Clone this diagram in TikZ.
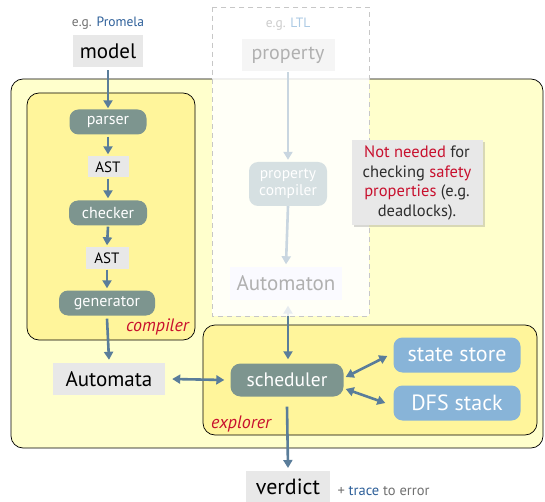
\documentclass[tikz,border=0pt]{standalone}
\usepackage{fontspec}
\setmainfont{PT Sans}
\usetikzlibrary{arrows.meta,shadows}
\definecolor{outery}{HTML}{FFFFCC}
\definecolor{innery}{HTML}{FFF59B}
\definecolor{pillc}{HTML}{7D958F}
\definecolor{arrc}{HTML}{5A7D9A}
\definecolor{bluec}{HTML}{88B4D8}
\definecolor{boxg}{HTML}{E8E8E8}
\definecolor{redc}{HTML}{C8102E}
\definecolor{bluet}{HTML}{2D5F99}
\definecolor{grayt}{HTML}{707070}
\definecolor{fadet}{HTML}{B0B0B0}
\definecolor{fadearr}{HTML}{C9D6E0}
\definecolor{fadepill}{HTML}{D6E0E2}
\begin{document}
\begin{tikzpicture}[x=1pt,y=-1pt,
  pill/.style={fill=pillc, rounded corners=9pt, text=white, font=\fontsize{16}{16}\selectfont, minimum height=25pt, inner sep=0pt},
  bpill/.style={fill=bluec, rounded corners=9pt, text=white, font=\fontsize{22}{22}\selectfont, minimum width=127pt, minimum height=35pt, inner sep=0pt},
  gbox/.style={fill=boxg, inner sep=0pt},
  arr/.style={draw=arrc, line width=2.6pt, -{Triangle[width=9pt,length=8pt]}},
  darr/.style={draw=arrc, line width=2.6pt, {Triangle[width=9pt,length=8pt]}-{Triangle[width=9pt,length=8pt]}},
  farr/.style={draw=fadearr, line width=2.6pt, -{Triangle[width=9pt,length=8pt]}},
  region/.style={draw=black, line width=0.7pt, rounded corners=12pt},
  lbl/.style={text=redc, font=\itshape\fontsize{18}{18}\selectfont, inner sep=0pt}
]
\useasboundingbox (0,0) rectangle (545,502);

% regions
\draw[region, fill=outery] (11,79) rectangle (543,448);
\draw[region, fill=innery] (27,93) rectangle (195,340);
\draw[region, fill=innery] (203,325) rectangle (537,435);
\node[lbl, anchor=south east] (complbl) at (189,335) {compiler};
\node[lbl, anchor=south west] (explbl) at (211,432) {explorer};

% model side
\node[font=\fontsize{13.5}{13.5}\selectfont, text=grayt] (eg1) at (108,23) {e.g. \textcolor{bluet}{Promela}};
\node[gbox, minimum width=70pt, minimum height=32pt, font=\fontsize{21}{21}\selectfont] (model) at (108,51) {model};
\node[pill, minimum width=77pt] (parser) at (108,122) {parser};
\node[gbox, minimum width=41pt, minimum height=21pt, font=\fontsize{15}{15}\selectfont] (ast1) at (108,167) {AST};
\node[pill, minimum width=78pt] (checker) at (108,213) {checker};
\node[gbox, minimum width=43pt, minimum height=21pt, font=\fontsize{15}{15}\selectfont] (ast2) at (107,258) {AST};
\node[pill, minimum width=96pt] (generator) at (107,303) {generator};
\node[gbox, minimum width=112pt, minimum height=32pt, font=\fontsize{21}{21}\selectfont] (automata) at (109,379) {Automata};

\node[pill, minimum width=113pt, minimum height=33pt, rounded corners=10pt, font=\fontsize{19.5}{19.5}\selectfont] (sched) at (287,380) {scheduler};
\node[bpill] (store) at (457,355) {state store};
\node[bpill] (dfs) at (457,403) {DFS stack};
\node[gbox, minimum width=84pt, minimum height=32pt, font=\fontsize{22}{22}\selectfont, anchor=north] (verdict) at (288,471) {verdict};
\node[font=\fontsize{14.5}{14.5}\selectfont, text=grayt, anchor=west] (trace) at (334,491) {+ \textcolor{bluet}{trace} to error};

% arrows
\draw[arr] ([yshift=-3pt]model.south) -- ([yshift=1pt]parser.north);
\draw[arr] ([yshift=-2pt]parser.south) -- ([yshift=2pt]ast1.north);
\draw[arr] ([yshift=-1pt]ast1.south) -- ([yshift=2pt]checker.north);
\draw[arr] ([yshift=-1pt]checker.south) -- ([yshift=2pt]ast2.north);
\draw[arr] ([yshift=-1pt]ast2.south) -- ([yshift=2pt]generator.north);
\draw[arr] ([yshift=-3pt]generator.south) -- ([yshift=3pt]automata.north);
\draw[darr] ([xshift=7pt]automata.east) -- ([xshift=-6pt]sched.west);
\draw[darr] ([xshift=2pt,yshift=3pt]sched.east) -- ([xshift=-6pt,yshift=-1pt]store.west);
\draw[darr] ([xshift=2pt,yshift=-9pt]sched.east) -- ([xshift=-8pt]dfs.west);
\draw[arr] ([yshift=-10pt]sched.south) -- ([yshift=3pt]verdict.north);

% property side (faded)
\node[minimum width=112pt, minimum height=33pt, inner sep=0pt] (automaton) at (286,283) {};
\draw[darr] ([xshift=2pt,yshift=-6pt]automaton.south) -- ([xshift=1pt,yshift=4pt]sched.north);
\draw[dashed, draw=black!22, line width=0.8pt, fill=white, fill opacity=0.85, dash pattern=on 5pt off 4pt] (212,7) rectangle (369,316);
\node[font=\fontsize{13.5}{13.5}\selectfont, text=black!20] (eg2) at (288,24) {e.g. \textcolor{bluec!70}{LTL}};
\node[fill=black!4, text=fadet, minimum width=93pt, minimum height=32pt, inner sep=0pt, font=\fontsize{20}{20}\selectfont] (prop) at (288,55) {property};
\node[fill=fadepill, text=white, rounded corners=9pt, minimum width=78pt, minimum height=44pt, inner sep=0pt, align=center, font=\fontsize{15.5}{17}\selectfont] (pcomp) at (288,184) {property\\compiler};
\node[fill=blue!2, text=fadet, minimum width=112pt, minimum height=33pt, inner sep=0pt, font=\fontsize{21}{21}\selectfont] at (automaton) {Automaton};
\draw[farr] ([yshift=-1pt]prop.south) -- ([yshift=2pt]pcomp.north);
\draw[farr] (pcomp.south) -- ([yshift=2pt]automaton.north);

% note
\node[fill=boxg, text=black!82, drop shadow={opacity=0.3, shadow xshift=2pt, shadow yshift=-2pt}, minimum width=131pt, minimum height=85pt, inner sep=0pt, align=center, font=\fontsize{16.5}{19.5}\selectfont] (note) at (417,183) {\textcolor{redc}{Not needed} for\\checking \textcolor{redc}{safety}\\\textcolor{redc}{properties} (e.g.\\deadlocks).};
\end{tikzpicture}
\end{document}
